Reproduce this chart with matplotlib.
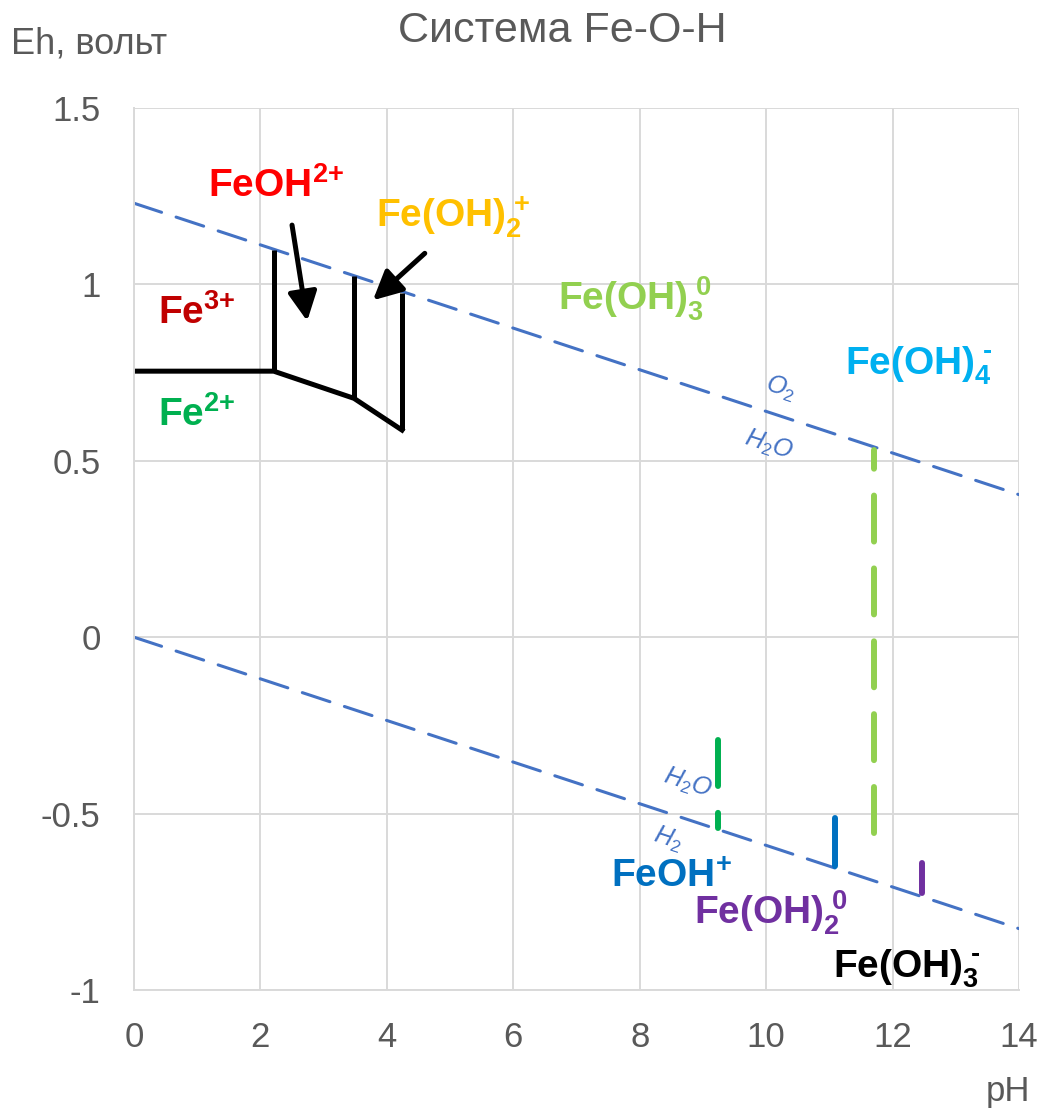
import numpy as np
import matplotlib.pyplot as plt

plt.rcParams['font.family'] = ['Liberation Sans', 'DejaVu Sans']
plt.rcParams['mathtext.fontset'] = 'custom'
plt.rcParams['mathtext.rm'] = 'Liberation Sans'
plt.rcParams['mathtext.bf'] = 'Liberation Sans:bold'
plt.rcParams['mathtext.it'] = 'Liberation Sans:italic'

# water stability lines (Eh = a - 0.059 pH)
ph_range = [0, 14]
o2_eh = [1.23, 0.404]
h2_eh = [0.0, -0.826]

# Fe3+/Fe2+ and hydroxo-complex boundaries (black)
base_ph = [0, 2.21, 3.48, 4.24]
base_eh = [0.754, 0.754, 0.677, 0.587]
vert_ph = [2.21, 3.48, 4.24]
vert_top = [1.097, 1.023, 0.975]
vert_bot = [0.754, 0.677, 0.587]

# coloured vertical boundaries
col_ph = [9.24, 11.09, 12.47, 11.71]
col_top = [-0.292, -0.513, -0.641, 0.53]
col_bot = [-0.541, -0.649, -0.726, -0.556]
col_color = ['#00B050', '#0070C0', '#7030A0', '#92D050']
col_dashed = [True, False, False, True]

# species labels
labels = [r'$\mathbf{FeOH^{2{+}}}$', r'$\mathbf{Fe(OH)_2^{\ {+}}}$', r'$\mathbf{Fe^{3{+}}}$',
          r'$\mathbf{Fe^{2{+}}}$', r'$\mathbf{Fe(OH)_3^{\ 0}}$', r'$\mathbf{Fe(OH)_4^{\ ‐}}$',
          r'$\mathbf{FeOH^{{+}}}$', r'$\mathbf{Fe(OH)_2^{\ 0}}$', r'$\mathbf{Fe(OH)_3^{\ ‐}}$']
lab_ph = [2.25, 5.05, 0.99, 0.99, 7.93, 12.42, 8.5, 10.08, 12.22]
lab_eh = [1.28, 1.19, 0.92, 0.63, 0.96, 0.77, -0.68, -0.78, -0.94]
lab_color = ['#FF0000', '#FFC000', '#C00000', '#00B050', '#92D050', '#00B0F0',
             '#0070C0', '#7030A0', '#000000']

# arrows (tail -> head)
arrows = [((2.50, 1.168), (2.74, 0.896)), ((4.60, 1.088), (3.78, 0.955))]

fig = plt.figure(figsize=(10.46, 11.13), dpi=100)
ax = fig.add_axes([0.1281, 0.1105, 0.8461, 0.7925])

ax.set_xlim(0, 14)
ax.set_ylim(-1, 1.5)
ax.set_xticks(np.arange(0, 15, 2))
ax.set_yticks([-1, -0.5, 0, 0.5, 1, 1.5])
ax.set_yticklabels(['-1', '-0.5', '0', '0.5', '1', '1.5'])
ax.grid(color='#D9D9D9', lw=1.4)
ax.set_axisbelow(True)
for s in ['top', 'right']:
    ax.spines[s].set_visible(False)
for s in ['left', 'bottom']:
    ax.spines[s].set_color('#D9D9D9')
    ax.spines[s].set_linewidth(1.4)
ax.tick_params(length=0, labelsize=25, labelcolor='#595959')
ax.tick_params(axis='x', pad=22)
ax.tick_params(axis='y', pad=24)

# water lines
for e in [o2_eh, h2_eh]:
    ax.plot(ph_range, e, color='#4472C4', lw=2.2, dashes=(9.5, 5), dash_capstyle='round')

# black boundaries
ax.plot(base_ph, base_eh, color='black', lw=3.6)
for p, t, b in zip(vert_ph, vert_top, vert_bot):
    ax.plot([p, p], [b, t], color='black', lw=3.6, solid_capstyle='butt')

# coloured boundaries
for p, t, b, c, d in zip(col_ph, col_top, col_bot, col_color, col_dashed):
    if d:
        if c == '#92D050':
            ax.plot([p, p], [b, t], color=c, lw=4.3, dashes=(7.7, 4.5), dash_capstyle='round')
        else:
            ax.plot([p, p], [t, b], color=c, lw=4.3, dashes=(7.7, 4.5), dash_capstyle='round')
    else:
        ax.plot([p, p], [b, t], color=c, lw=4.3, solid_capstyle='round')

for (t, h) in arrows:
    ax.annotate('', xy=h, xytext=t,
                arrowprops=dict(arrowstyle='-|>', color='black', lw=3.6, mutation_scale=44,
                                shrinkA=0, shrinkB=0))

for s, x, y, c in zip(labels, lab_ph, lab_eh, lab_color):
    ax.text(x, y, s, color=c, fontsize=28, ha='center', va='center')

# water line labels
ang = -18.2
ax.text(10.23, 0.705, r'$O_2$', color='#4472C4', fontsize=18, rotation=ang, ha='center', va='center')
ax.text(10.04, 0.545, r'$H_2O$', color='#4472C4', fontsize=18, rotation=ang, ha='center', va='center')
ax.text(8.76, -0.414, r'$H_2O$', color='#4472C4', fontsize=18, rotation=ang, ha='center', va='center')
ax.text(8.45, -0.572, r'$H_2$', color='#4472C4', fontsize=18, rotation=ang, ha='center', va='center')

fig.text(562 / 1046, 1 - 31 / 1113, 'Система Fe-O-H', fontsize=31, color='#595959',
         ha='center', va='center')
fig.text(89 / 1046, 1 - 44 / 1113, 'Eh, вольт', fontsize=26, color='#595959',
         ha='center', va='center')
fig.text(1008 / 1046, 1 - 1092 / 1113, 'pH', fontsize=25, color='#595959',
         ha='center', va='center')

fig.savefig('out.png', dpi=100)
